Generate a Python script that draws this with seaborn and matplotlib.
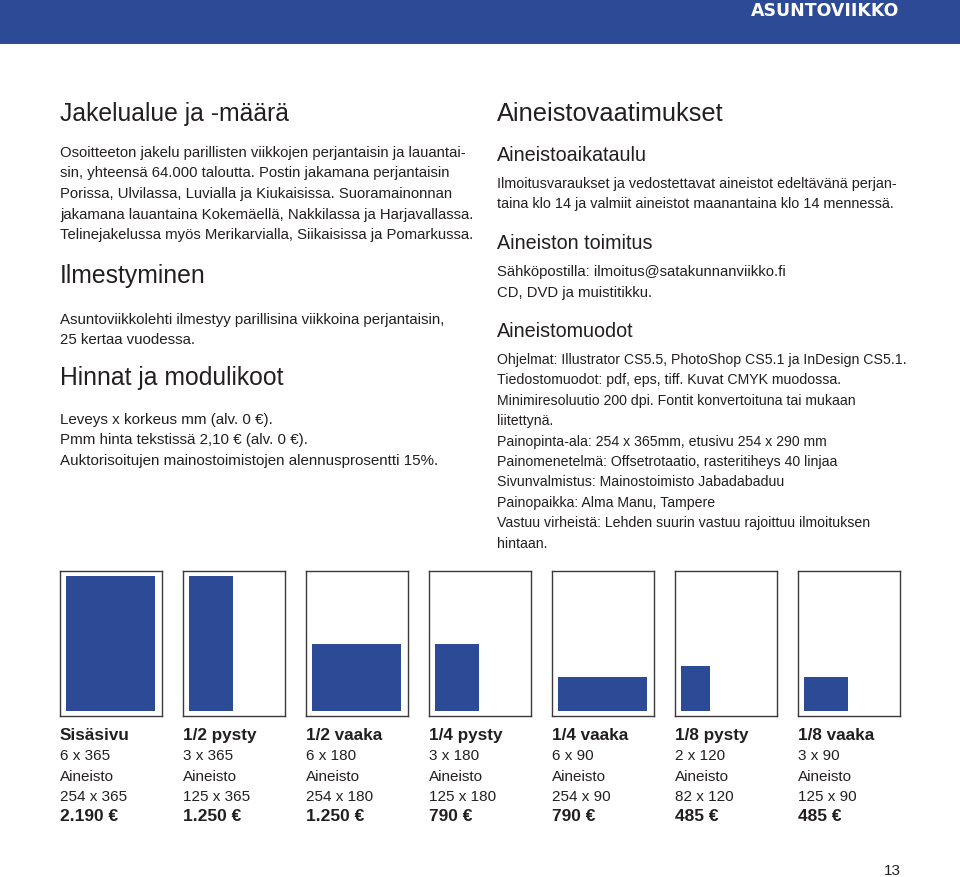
import matplotlib
matplotlib.use("Agg")
import matplotlib.pyplot as plt
from matplotlib.patches import Rectangle
import pandas as pd
import seaborn as sns

# ad sizes: name, modules (columns x mm), material size in mm, price
formats = ["Sisäsivu", "1/2 pysty", "1/2 vaaka", "1/4 pysty", "1/4 vaaka", "1/8 pysty", "1/8 vaaka"]
modules = ["6 x 365", "3 x 365", "6 x 180", "3 x 180", "6 x 90", "2 x 120", "3 x 90"]
material_w = [254, 125, 254, 125, 254, 82, 125]
material_h = [365, 365, 180, 180, 90, 120, 90]
prices = ["2.190 €", "1.250 €", "1.250 €", "790 €", "790 €", "485 €", "485 €"]

# text blocks
jakelu = [
    "Osoitteeton jakelu parillisten viikkojen perjantaisin ja lauantai-",
    "sin, yhteensä 64.000 taloutta. Postin jakamana perjantaisin",
    "Porissa, Ulvilassa, Luvialla ja Kiukaisissa. Suoramainonnan",
    "jakamana lauantaina Kokemäellä, Nakkilassa ja Harjavallassa.",
    "Telinejakelussa myös Merikarvialla, Siikaisissa ja Pomarkussa.",
]
ilmestyminen = [
    "Asuntoviikkolehti ilmestyy parillisina viikkoina perjantaisin,",
    "25 kertaa vuodessa.",
]
hinnat = [
    "Leveys x korkeus mm (alv. 0 €).",
    "Pmm hinta tekstissä 2,10 € (alv. 0 €).",
    "Auktorisoitujen mainostoimistojen alennusprosentti 15%.",
]
aikataulu = [
    "Ilmoitusvaraukset ja vedostettavat aineistot edeltävänä perjan-",
    "taina klo 14 ja valmiit aineistot maanantaina klo 14 mennessä.",
]
toimitus = [
    "Sähköpostilla: ilmoitus@satakunnanviikko.fi",
    "CD, DVD ja muistitikku.",
]
muodot = [
    "Ohjelmat: Illustrator CS5.5, PhotoShop CS5.1 ja InDesign CS5.1.",
    "Tiedostomuodot: pdf, eps, tiff. Kuvat CMYK muodossa.",
    "Minimiresoluutio 200 dpi. Fontit konvertoituna tai mukaan",
    "liitettynä.",
    "Painopinta-ala: 254 x 365mm, etusivu 254 x 290 mm",
    "Painomenetelmä: Offsetrotaatio, rasteritiheys 40 linjaa",
    "Sivunvalmistus: Mainostoimisto Jabadabaduu",
    "Painopaikka: Alma Manu, Tampere",
    "Vastuu virheistä: Lehden suurin vastuu rajoittuu ilmoituksen",
    "hintaan.",
]

sns.set_style("white")
plt.rcParams["font.family"] = ["Liberation Sans", "DejaVu Sans"]

W, H = 960, 878
BLUE = "#2D4A97"
INK = "#231F20"


def fx(x):
    return x / W


def fy(y):
    return 1 - y / H


fig = plt.figure(figsize=(W / 100, H / 100), dpi=100)
fig.patch.set_facecolor("white")

# header band
fig.add_artist(Rectangle((0, fy(45)), 1, 45 / H, transform=fig.transFigure,
                         facecolor=BLUE, lw=0))
fig.text(fx(899), fy(15.5), "ASUNTOVIIKKO", color="white", fontsize=12.5,
         weight="bold", family="DejaVu Sans", ha="right", va="baseline")


def txt(x, y, s, size=9, **kw):
    fig.text(fx(x), fy(y), s, fontsize=size, color=INK, ha="left", va="baseline", **kw)


def block(x, y0, lines, size=9, step=20.5):
    for i, line in enumerate(lines):
        txt(x, y0 + i * step, line, size)


# left column
txt(60, 121, "Jakelualue ja -määrä", 17.8)
block(60, 157, jakelu, 10.7)
txt(60, 283, "Ilmestyminen", 17.8)
block(60, 324, ilmestyminen, 10.8)
txt(60, 385, "Hinnat ja modulikoot", 17.8)
block(60, 424, hinnat, 10.9)

# right column
txt(497, 121, "Aineistovaatimukset", 18.3)
txt(497, 161, "Aineistoaikataulu", 14.2)
block(497, 188, aikataulu, 10.4)
txt(497, 249, "Aineiston toimitus", 14.2)
block(497, 276, toimitus, 10.7)
txt(497, 337, "Aineistomuodot", 14.2)
block(497, 364, muodot, 10.15, 20.4)

# ad size boxes: frame 102x145 px, material area 89x135 px inside
SX = 254 / 89
SY = 365 / 135
for i in range(len(formats)):
    left = 60 + i * 123
    ax = fig.add_axes([fx(left), fy(717), 102 / W, 145 / H])
    df = pd.DataFrame({"x": [material_w[i] / 2], "h": [material_h[i]]})
    sns.barplot(data=df, x="x", y="h", native_scale=True, width=material_w[i],
                color=BLUE, saturation=1, errorbar=None, linewidth=0, ax=ax)
    ax.set_xlim(-6 * SX, 96 * SX)
    ax.set_ylim(-5.5 * SY, 139.5 * SY)
    ax.set(xticks=[], yticks=[], xlabel="", ylabel="")
    for sp in ax.spines.values():
        sp.set_visible(True)
        sp.set_color("#3A3A3A")
        sp.set_linewidth(1)

    txt(left, 740, formats[i], 12.3, weight="bold")
    txt(left, 760, modules[i], 11)
    txt(left, 781, "Aineisto", 11)
    txt(left, 801, f"{material_w[i]} x {material_h[i]}", 11)
    txt(left, 821, prices[i], 12.5, weight="bold")

txt(884, 875, "13", 11)

fig.savefig("out.png", dpi=100, facecolor="white")
